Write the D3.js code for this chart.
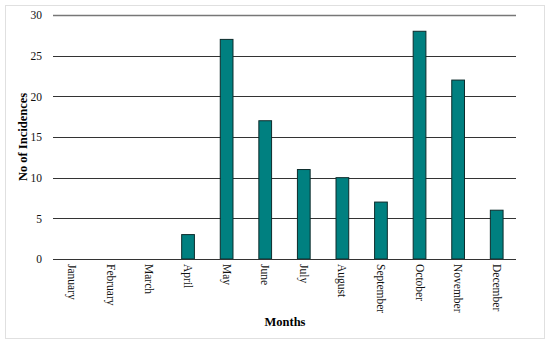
<!DOCTYPE html>
<html><head><meta charset="utf-8">
<script src="https://cdn.jsdelivr.net/npm/d3@7"></script>
<style>body{margin:0;background:#fff}svg{display:block}
svg text{font-family:"Liberation Serif","Times New Roman",serif !important;}</style>
</head><body>
<script>
const months = ["January","February","March","April","May","June","July","August","September","October","November","December"];
const incidences = [0,0,0,3,27,17,11,10,7,28,22,6];
const yTicks = [0,5,10,15,20,25,30];

const W = 550, H = 343;
const m = {left:53, right:34, top:15, bottom:84};
const svg = d3.select("body").append("svg").attr("width",W).attr("height",H);
svg.append("rect").attr("x",5.5).attr("y",5.5).attr("width",539).attr("height",333)
  .attr("fill","#fff").attr("stroke","#e0e0e0");

const x = d3.scaleBand().domain(months).range([m.left, W-m.right]).paddingInner(0.67).paddingOuter(0.335);
const y = d3.scaleLinear().domain([0,30]).range([H-m.bottom, m.top]);

// grid
const g = svg.append("g");
g.selectAll("line.grid").data(yTicks.filter(d=>d>0)).enter().append("line")
  .attr("x1",m.left).attr("x2",W-m.right)
  .attr("y1",d=>Math.round(y(d))+0.5).attr("y2",d=>Math.round(y(d))+0.5)
  .attr("stroke",d=>d===30?"#777":"#333").attr("stroke-width",d=>d===30?1.5:1);

// y axis labels
const ya = svg.append("g").attr("transform",`translate(${m.left},0)`)
  .call(d3.axisLeft(y).tickValues(yTicks).tickSize(0).tickPadding(11));
ya.select(".domain").remove();
ya.attr("font-size",11.5);
ya.selectAll("text").attr("fill","#111");

// bars
svg.selectAll("rect.bar").data(months).enter().append("rect")
  .attr("x",d=>x(d)).attr("width",x.bandwidth())
  .attr("y",(d,i)=>y(incidences[i])).attr("height",(d,i)=>y(0)-y(incidences[i]))
  .attr("fill","#008080").attr("stroke","#0d2b2b").attr("stroke-width",1);

// baseline
svg.append("line").attr("x1",m.left).attr("x2",W-m.right)
  .attr("y1",Math.round(y(0))+0.5).attr("y2",Math.round(y(0))+0.5).attr("stroke","#333");

// x labels
const xa = svg.append("g").attr("transform",`translate(0,${y(0)})`)
  .call(d3.axisBottom(x).tickSize(0).tickPadding(0));
xa.select(".domain").remove();
xa.attr("font-size",11.5);
xa.selectAll("text").attr("fill","#111")
  .attr("text-anchor","start").attr("dy","0.35em")
  .attr("transform","translate(0,5) rotate(90)").attr("y",0).attr("x",0);

svg.append("text").attr("x",285).attr("y",326).attr("text-anchor","middle")
  .attr("font-size",12.5).attr("font-weight","bold").text("Months");
svg.append("text").attr("transform","translate(27,137) rotate(-90)").attr("text-anchor","middle")
  .attr("font-size",12.5).attr("font-weight","bold").text("No of Incidences");
</script>
</body></html>
